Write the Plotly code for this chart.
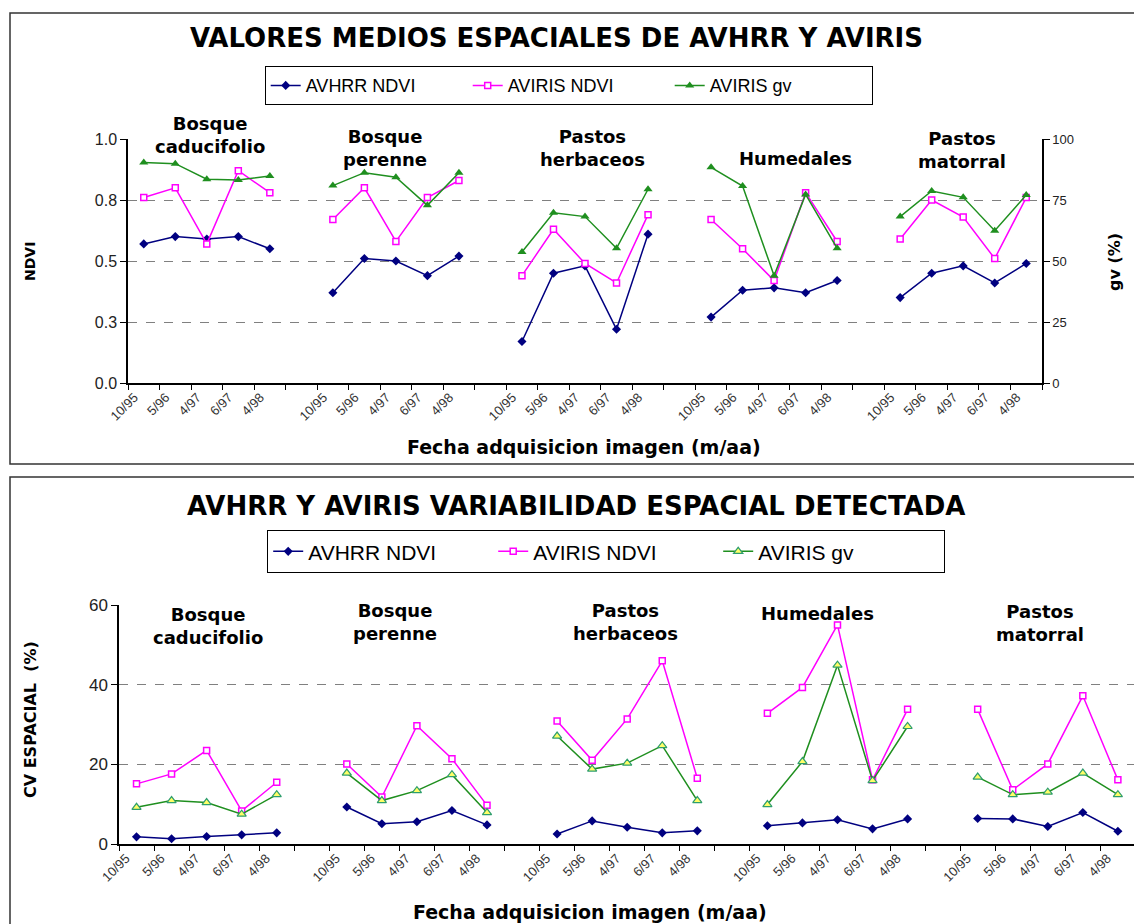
import plotly.graph_objects as go

W, H = 1134, 924

# ---------------- data ----------------
fechas = ["10/95", "5/96", "4/97", "6/97", "4/98"]
grupos = ["Bosque<br>caducifolio", "Bosque<br>perenne", "Pastos<br>herbaceos",
          "Humedales", "Pastos<br>matorral"]

# Top chart: mean spatial values
avhrr_ndvi_media = [
    [0.57, 0.60, 0.59, 0.60, 0.55],
    [0.37, 0.51, 0.50, 0.44, 0.52],
    [0.17, 0.45, 0.48, 0.22, 0.61],
    [0.27, 0.38, 0.39, 0.37, 0.42],
    [0.35, 0.45, 0.48, 0.41, 0.49],
]
aviris_ndvi_media = [
    [0.76, 0.80, 0.57, 0.87, 0.78],
    [0.67, 0.80, 0.58, 0.76, 0.83],
    [0.44, 0.63, 0.49, 0.41, 0.69],
    [0.67, 0.55, 0.42, 0.78, 0.58],
    [0.59, 0.75, 0.68, 0.51, 0.76],
]
aviris_gv_media = [
    [90.4, 89.9, 83.5, 83.2, 84.8],
    [80.9, 86.2, 84.3, 72.8, 86.2],
    [53.7, 69.8, 68.2, 55.2, 79.4],
    [88.4, 80.7, 44.0, 77.3, 55.2],
    [68.2, 78.7, 76.1, 62.4, 77.0],
]

# Bottom chart: spatial coefficient of variation (%)
avhrr_ndvi_cv = [
    [1.8, 1.3, 1.9, 2.3, 2.8],
    [9.3, 5.1, 5.6, 8.4, 4.8],
    [2.5, 5.8, 4.2, 2.8, 3.3],
    [4.6, 5.3, 6.1, 3.8, 6.3],
    [6.4, 6.3, 4.4, 7.9, 3.2],
]
aviris_ndvi_cv = [
    [15.1, 17.6, 23.5, 8.3, 15.5],
    [20.1, 11.8, 29.7, 21.4, 9.7],
    [30.9, 21.0, 31.4, 46.0, 16.5],
    [32.8, 39.3, 55.0, 16.1, 33.8],
    [33.8, 13.6, 20.1, 37.2, 16.1],
]
aviris_gv_cv = [
    [9.2, 10.9, 10.4, 7.5, 12.4],
    [17.8, 10.9, 13.4, 17.4, 7.9],
    [27.1, 18.8, 20.3, 24.7, 10.9],
    [9.9, 20.7, 44.9, 15.9, 29.5],
    [16.8, 12.4, 13.0, 17.8, 12.4],
]

series_names = ["AVHRR NDVI", "AVIRIS NDVI", "AVIRIS gv"]

# ---------------- helpers ----------------
n_f = len(fechas)
step = n_f + 1          # one empty category between groups
n_cat = len(grupos) * step - 1


def flatten(groups):
    xs, ys = [], []
    for g, vals in enumerate(groups):
        for i, v in enumerate(vals):
            xs.append(g * step + i)
            ys.append(v)
        xs.append(None)
        ys.append(None)
    return xs, ys


cat_pos = [g * step + i for g in range(len(grupos)) for i in range(n_f)]
cat_txt = [f for g in range(len(grupos)) for f in fechas]
label_shift = -0.3
tick_pos = [p + label_shift for p in cat_pos]
bounds = [k - 0.5 for k in range(n_cat + 1)]

NAVY = "#000080"
MAG = "#FF00FF"
GRN = "#1F8F1F"
FONT = "Liberation Sans"
BOLD = "DejaVu Sans"

fig = go.Figure()

# ---------- top chart traces ----------
top_styles = [
    dict(color=NAVY, marker=dict(symbol="diamond", size=7, color=NAVY)),
    dict(color=MAG, marker=dict(symbol="square", size=6, color="white",
                                line=dict(color=MAG, width=1.5))),
    dict(color=GRN, marker=dict(symbol="triangle-up", size=8, color=GRN)),
]
for name, data, st, yax in zip(series_names,
                               [avhrr_ndvi_media, aviris_ndvi_media, aviris_gv_media],
                               top_styles, ["y", "y", "y2"]):
    xs, ys = flatten(data)
    fig.add_trace(go.Scatter(
        x=xs, y=ys, name=name, mode="lines+markers",
        line=dict(color=st["color"], width=1.5),
        marker=st["marker"], xaxis="x", yaxis=yax,
        legend="legend", connectgaps=False))

# ---------- bottom chart traces ----------
bot_styles = [
    dict(color=NAVY, marker=dict(symbol="diamond", size=7, color=NAVY)),
    dict(color=MAG, marker=dict(symbol="square", size=6, color="white",
                                line=dict(color=MAG, width=1.5))),
    dict(color=GRN, marker=dict(symbol="triangle-up", size=8, color="#FFFF66",
                                line=dict(color="#2E9E6E", width=1.2))),
]
for name, data, st in zip(series_names,
                          [avhrr_ndvi_cv, aviris_ndvi_cv, aviris_gv_cv],
                          bot_styles):
    xs, ys = flatten(data)
    fig.add_trace(go.Scatter(
        x=xs, y=ys, name=name, mode="lines+markers",
        line=dict(color=st["color"], width=1.5),
        marker=st["marker"], xaxis="x2", yaxis="y3",
        legend="legend2", connectgaps=False))


def px_x(p):
    return p / W


def px_y(p):
    return 1 - p / H


grid = dict(showgrid=True, gridcolor="#808080", griddash="dash", gridwidth=1.2)

xcommon = dict(
    tickmode="array", tickvals=tick_pos, ticktext=cat_txt, tickangle=-45,
    ticks="", showline=True, linecolor="black", linewidth=1.5,
    showgrid=False, zeroline=False, automargin=False,
    tickfont=dict(family=FONT, size=13, color="#333"),
    minor=dict(tickmode="array", tickvals=bounds, ticks="outside",
               ticklen=5, tickcolor="black", tickwidth=1.2, showgrid=False),
)

fig.update_layout(
    template="none",
    width=W, height=H,
    margin=dict(l=0, r=0, t=0, b=0, pad=0, autoexpand=False),
    paper_bgcolor="white", plot_bgcolor="white",
    xaxis=dict(domain=[px_x(128), px_x(1042)], anchor="y",
               range=[-0.5, n_cat - 0.5], **xcommon),
    yaxis=dict(domain=[px_y(383), px_y(139)], anchor="x", range=[0, 1],
               tickmode="array", tickvals=[0, 0.25, 0.5, 0.75, 1.0],
               ticktext=["0.0", "0.3", "0.5", "0.8", "1.0"],
               ticks="outside", ticklen=6, tickcolor="black", automargin=False,
               showline=True, linecolor="black", linewidth=1.5, zeroline=False,
               tickfont=dict(family=FONT, size=16, color="#222"), **grid),
    yaxis2=dict(overlaying="y", side="right", anchor="x", range=[0, 100],
                tickmode="array", tickvals=[0, 25, 50, 75, 100],
                ticks="outside", ticklen=6, tickcolor="black", automargin=False,
                showline=True, linecolor="black", linewidth=1.5,
                showgrid=False, zeroline=False,
                tickfont=dict(family=FONT, size=13, color="#222")),
    xaxis2=dict(domain=[px_x(119), 1.0], anchor="y3",
                range=[-0.5, n_cat - 0.54], **xcommon),
    yaxis3=dict(domain=[px_y(844), px_y(605)], anchor="x2", range=[0, 60],
                tickmode="array", tickvals=[0, 20, 40, 60],
                ticks="outside", ticklen=6, tickcolor="black", automargin=False,
                showline=True, linecolor="black", linewidth=1.5, zeroline=False,
                tickfont=dict(family=FONT, size=17, color="#222"), **grid),
    legend=dict(orientation="h", x=px_x(569), xanchor="center",
                y=px_y(66), yanchor="top", bgcolor="white",
                bordercolor="black", borderwidth=1.2,
                font=dict(family=FONT, size=18, color="black"),
                itemwidth=30, tracegroupgap=0,
                entrywidth=157, entrywidthmode="pixels"),
    legend2=dict(orientation="h", x=px_x(606), xanchor="center",
                 y=px_y(530), yanchor="top", bgcolor="white",
                 bordercolor="black", borderwidth=1.2,
                 font=dict(family=FONT, size=21, color="black"),
                 itemwidth=30, tracegroupgap=0,
                 entrywidth=180, entrywidthmode="pixels"),
    showlegend=True,
)

# ---------- boxes ----------
fig.add_shape(type="rect", xref="paper", yref="paper",
              x0=px_x(10), x1=1.02, y0=px_y(464), y1=px_y(13),
              line=dict(color="#333", width=1.5), layer="below")
fig.add_shape(type="rect", xref="paper", yref="paper",
              x0=px_x(10), x1=1.02, y0=-0.05, y1=px_y(477),
              line=dict(color="#333", width=1.5), layer="below")

# ---------- annotations ----------
ann = []


def add_text(text, x, y, size, angle=0, family=BOLD, bold=True):
    ann.append(dict(text=f"<b>{text}</b>" if bold else text,
                    x=px_x(x), y=px_y(y), xref="paper", yref="paper",
                    xanchor="center", yanchor="middle", showarrow=False,
                    textangle=angle,
                    font=dict(family=family, size=size, color="black")))


add_text("VALORES MEDIOS ESPACIALES DE AVHRR Y AVIRIS", 556, 38, 26)
add_text("AVHRR Y AVIRIS VARIABILIDAD ESPACIAL DETECTADA", 576, 506, 26)

add_text("Fecha adquisicion imagen (m/aa)", 584, 447, 19)
add_text("Fecha adquisicion imagen (m/aa)", 590, 912, 19)

add_text("NDVI", 30, 262, 14, angle=-90)
add_text("gv (%)", 1114, 262, 16, angle=-90)
add_text("CV ESPACIAL  (%)", 30, 720, 16, angle=-90)

top_centers = [(210, 135), (385, 148), (592, 148), (795, 158), (962, 150)]
bot_centers = [(208, 626), (395, 622), (625, 622), (817, 613), (1040, 623)]
for g, (cx, cy) in zip(grupos, top_centers):
    add_text(g, cx, cy, 18)
for g, (cx, cy) in zip(grupos, bot_centers):
    add_text(g, cx, cy, 18)

fig.update_layout(annotations=ann)

fig.write_html("out.html", config={"displayModeBar": False},
               post_script="document.body.style.margin='0';")
